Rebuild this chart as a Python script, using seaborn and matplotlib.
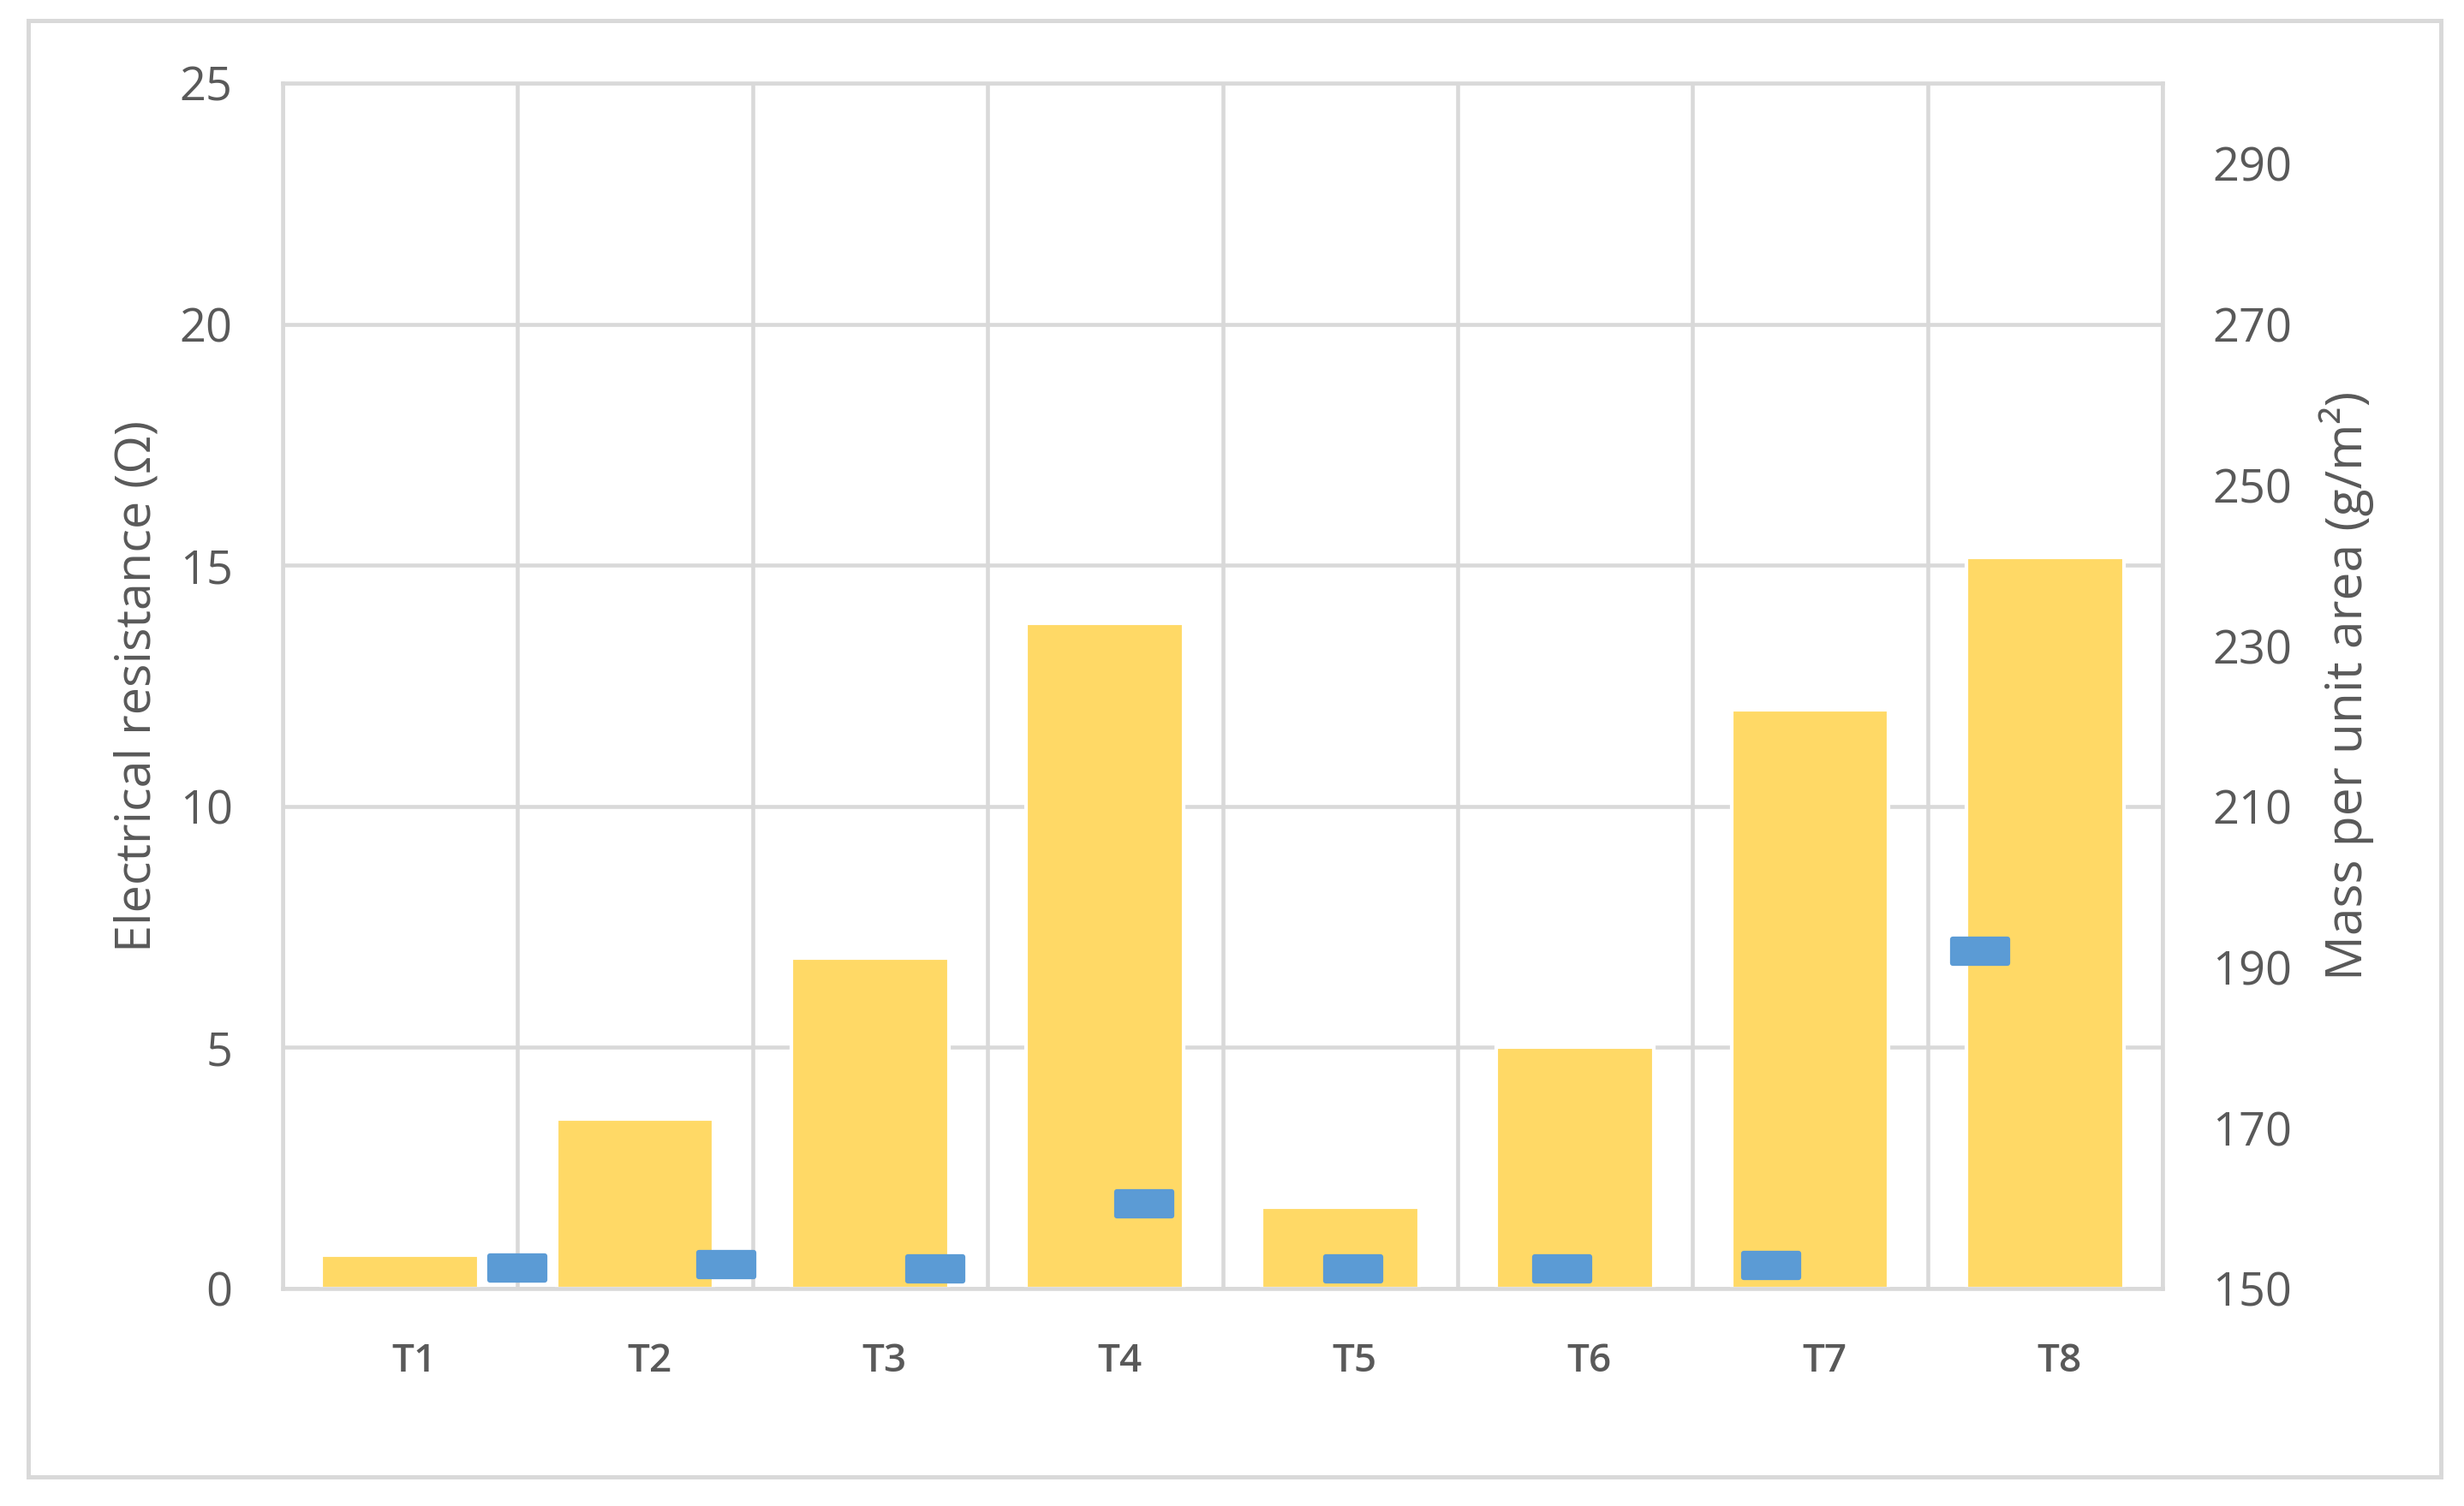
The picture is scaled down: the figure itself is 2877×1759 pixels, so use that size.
"""Electrical resistance (bars) and mass per unit area (markers) for samples T1-T8."""

import matplotlib

matplotlib.use("Agg")

import matplotlib.pyplot as plt
import matplotlib.transforms as mtransforms
import numpy as np
import pandas as pd
import seaborn as sns
from matplotlib.patches import Rectangle
from matplotlib.path import Path

samples = ["T1", "T2", "T3", "T4", "T5", "T6", "T7", "T8"]
resistance = [0.7, 3.52, 6.85, 13.8, 1.68, 5.0, 12.0, 15.16]
mass = [152.6, 153.0, 152.5, 160.5, 152.5, 152.5, 152.9, 192.0]
left_ticks = [0, 5, 10, 15, 20, 25]
right_ticks = [150, 170, 190, 210, 230, 250, 270, 290]

BAR_COLOR = "#FFD966"
MARK_COLOR = "#5B9BD5"
GRID_COLOR = "#D9D9D9"
TEXT_COLOR = "#595959"

sns.set_theme(style="white")
plt.rcParams["font.family"] = ["Open Sans", "DejaVu Sans"]

fig = plt.figure(figsize=(2877 / 300, 1759 / 300), dpi=300)
rect = [330 / 2877, 1 - 1505 / 1759, 2195 / 2877, 1408 / 1759]
ax = fig.add_axes(rect)

df = pd.DataFrame({"sample": samples, "resistance": resistance})
sns.barplot(
    data=df,
    x="sample",
    y="resistance",
    color=BAR_COLOR,
    saturation=1,
    width=0.67,
    ax=ax,
    zorder=2,
)
ax.set_xlim(-0.5, len(samples) - 0.5)
ax.set_ylim(0, 25)
ax.set_yticks(left_ticks)
ax.set_xticks(np.arange(len(samples) + 1) - 0.5, minor=True)
ax.grid(axis="y", which="major", color=GRID_COLOR, lw=1.1, zorder=0)
ax.grid(axis="x", which="minor", color=GRID_COLOR, lw=1.1, zorder=0)
ax.set_axisbelow(True)
ax.tick_params(axis="both", which="both", length=0)
ax.tick_params(axis="y", pad=14, labelsize=13, labelcolor=TEXT_COLOR)
ax.tick_params(axis="x", pad=15, labelcolor=TEXT_COLOR)
# category labels sit a little right of the bar centres in the source
shift = mtransforms.ScaledTranslation(4 / 72, 0, fig.dpi_scale_trans)
for lab in ax.get_xticklabels():
    lab.set_fontsize(11)
    lab.set_fontweight("semibold")
    lab.set_transform(lab.get_transform() + shift)
ax.set_xlabel("")
ax.set_ylabel("Electrical resistance (\u03a9)", fontsize=13.8, color=TEXT_COLOR)
ax.yaxis.set_label_coords(-0.0638, 0.5)
for sp in ax.spines.values():
    sp.set_color(GRID_COLOR)
    sp.set_linewidth(1.1)

# second series sits on its own category axis (9 slots) like the source chart
ax2 = fig.add_axes(rect, frameon=False)
mdf = pd.DataFrame({"idx": np.arange(len(samples)), "mass": mass})
bar_marker = Path([(-1, -0.44), (1, -0.44), (1, 0.44), (-1, 0.44), (-1, -0.44)], closed=True)
sns.scatterplot(
    data=mdf,
    x="idx",
    y="mass",
    marker=bar_marker,
    s=234,
    color=MARK_COLOR,
    edgecolor=MARK_COLOR,
    linewidth=1.5,
    ax=ax2,
    zorder=3,
)
for coll in ax2.collections:
    coll.set_joinstyle("round")
ax2.set_xlim(-1.125, 7.875)
ax2.set_ylim(150, 300)
ax2.set_xticks([])
ax2.set_xlabel("")
ax2.yaxis.tick_right()
ax2.yaxis.set_label_position("right")
ax2.set_yticks(right_ticks)
ax2.tick_params(axis="y", length=0, pad=14, labelsize=13, labelcolor=TEXT_COLOR)
ax2.set_ylabel("Mass per unit area (g/m\u00b2)", fontsize=14.1, color=TEXT_COLOR)
ax2.yaxis.set_label_coords(1.083, 0.5)

fig.patches.append(
    Rectangle(
        (33 / 2877, 1 - 1725 / 1759),
        (2850 - 33) / 2877,
        (1725 - 24) / 1759,
        transform=fig.transFigure,
        fill=False,
        edgecolor=GRID_COLOR,
        lw=1.2,
    )
)

fig.savefig("out.png", dpi=300, facecolor="white")
plt.close(fig)
